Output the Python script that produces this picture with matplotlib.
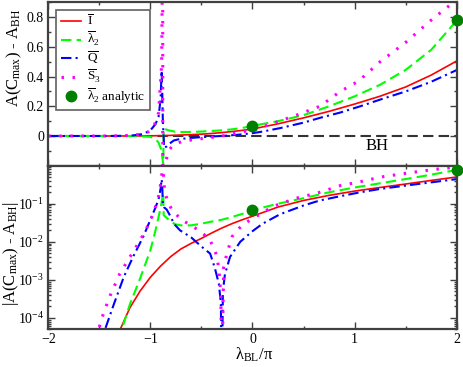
import matplotlib
matplotlib.use('Agg')
import matplotlib.pyplot as plt
import numpy as np
from matplotlib.ticker import MultipleLocator, LogLocator, NullFormatter, FixedLocator

plt.rcParams['font.family'] = ['Liberation Serif', 'DejaVu Serif']
plt.rcParams['mathtext.fontset'] = 'custom'
plt.rcParams['mathtext.rm'] = 'Liberation Serif'
plt.rcParams['mathtext.it'] = 'Liberation Serif:italic'

# I-bar
x_I = [-2.0, -1.8, -1.6, -1.4, -1.3, -1.2, -1.1, -1.0, -0.9, -0.8, -0.7, -0.6, -0.5,
       -0.4, -0.3, -0.2, -0.1, 0.0, 0.25, 0.5, 0.75, 1.0, 1.25, 1.5, 1.75, 2.0]
y_I = [1e-8, 1e-7, 1e-6, 1e-5, 4.7e-5, 1.86e-4, 5.1e-4, 1.17e-3, 2.3e-3, 4.1e-3, 6.5e-3,
       9.1e-3, 0.0123, 0.017, 0.023, 0.030, 0.038, 0.047, 0.082, 0.122, 0.166, 0.215,
       0.268, 0.33, 0.41, 0.505]

# lambda_2-bar
x_L = [-2.0, -1.8, -1.6, -1.4, -1.28, -1.2, -1.1, -1.0, -0.95, -0.92, -0.895, -0.882,
       -0.874, -0.87, -0.85, -0.82, -0.76, -0.7, -0.6, -0.5, -0.4, -0.3, -0.2, -0.1,
       0.0, 0.25, 0.5, 0.75, 1.0, 1.25, 1.5, 1.75, 2.0]
y_L = [-1e-9, -1e-8, -2e-7, -1.2e-5, -5e-5, -2.3e-4, -1.1e-3, -6e-3, -0.02, -0.045,
       -0.09, -0.15, -0.19, 0.05, 0.045, 0.038, 0.029, 0.027, 0.027, 0.03, 0.034,
       0.038, 0.045, 0.054, 0.068, 0.1, 0.14, 0.2, 0.267, 0.345, 0.445, 0.58, 0.777]

# Q-bar
x_Q = [-2.0, -1.8, -1.6, -1.5, -1.444, -1.36, -1.26, -1.17, -1.07, -1.0, -0.95, -0.92,
       -0.9, -0.89, -0.884, -0.878, -0.865, -0.84, -0.8, -0.77, -0.71, -0.6, -0.5,
       -0.415, -0.37, -0.33, -0.31, -0.3, -0.29, -0.27, -0.22, -0.12, 0.0, 0.1, 0.27,
       0.5, 0.66, 0.86, 1.055, 1.25, 1.5, 1.75, 2.0]
y_Q = [1e-9, 1e-8, 1.5e-6, 1.5e-5, 5e-5, 2.2e-4, 1.2e-3, 4e-3, 0.0136, 0.038, 0.08,
       0.13, 0.25, 0.44, 0.3, 0.1, -0.08, -0.07, -0.045, -0.03, -0.02, -0.013, -0.0075,
       -0.0049, -0.0021, -0.0008, -0.00025, 1e-6, 5e-4, 1.4e-3, 4e-3, 0.01, 0.019,
       0.03, 0.053, 0.09, 0.122, 0.158, 0.2, 0.245, 0.3, 0.365, 0.444]

# S_3-bar
x_S = [-2.0, -1.8, -1.6, -1.507, -1.458, -1.395, -1.3, -1.2, -1.1, -1.02, -0.97, -0.92,
       -0.89, -0.885, -0.88, -0.878, -0.87, -0.857, -0.82, -0.79, -0.74, -0.69, -0.61,
       -0.5, -0.415, -0.36, -0.33, -0.31, -0.3, -0.283, -0.25, -0.2, -0.15, -0.09,
       0.04, 0.2, 0.43, 0.66, 0.86, 1.04, 1.25, 1.5, 1.75, 1.95, 2.0]
y_S = [1e-8, 5e-7, 1.2e-5, 5e-5, 1.36e-4, 3.8e-4, 1.45e-3, 4e-3, 0.011, 0.028, 0.056,
       0.156, 0.48, 0.9, 3.0, -2.0, -0.4, -0.19, -0.1, -0.07, -0.05, -0.037, -0.028,
       -0.018, -0.011, -0.005, -0.0021, -4e-4, 1e-6, 0.0021, 0.005, 0.0137, 0.02,
       0.029, 0.047, 0.085, 0.14, 0.2, 0.3, 0.37, 0.5, 0.63, 0.78, 0.89, 0.93]

# analytic lambda_2 points
x_an = [0.0, 2.0]
y_an = [0.068, 0.78]

frame = '#404040'
fig = plt.figure(figsize=(4.63, 3.67), dpi=100)
ax1 = fig.add_axes([0.1043, 0.5485, 0.8821, 0.4452])
ax2 = fig.add_axes([0.1043, 0.1027, 0.8821, 0.4458])

curves = [
    (x_I, y_I, dict(color='#ff0000', lw=1.2, ls='-'), r'$\overline{\mathrm{I}}$'),
    (x_L, y_L, dict(color='#00ff00', lw=1.5, ls=(0, (5, 2.5))), r'$\overline{\mathrm{λ}}_2$'),
    (x_Q, y_Q, dict(color='#0000ff', lw=1.5, ls=(0, (5, 2, 1, 2))), r'$\overline{\mathrm{Q}}$'),
    (x_S, y_S, dict(color='#ff00ff', lw=2.2, ls=(0, (0.8, 2.8))), r'$\overline{\mathrm{S}}_3$'),
]

ax1.axhline(0, color='#333333', lw=1.5, ls=(0, (5, 2.5)), zorder=1)
for xs, ys, st, lab in curves:
    ax1.plot(xs, ys, label=lab, zorder=2, **st)
    ax2.plot(xs, np.abs(ys), zorder=2, **st)
ax1.plot(x_an, y_an, 'o', color='#008000', ms=7.5, label=r'$\overline{\mathrm{λ}}_2$ analytic',
         zorder=3, clip_on=False)
ax2.plot(x_an, y_an, 'o', color='#008000', ms=7.5, zorder=3, clip_on=False)

ax1.text(1.22, -0.068, 'BH', fontsize=12, ha='center', va='center')

ax1.set_xlim(-2, 2)
ax1.set_ylim(-0.2, 0.9)
ax2.set_xlim(-2, 2)
ax2.set_yscale('log')
ax2.set_ylim(5e-5, 1)

ax1.yaxis.set_major_locator(FixedLocator([0, 0.2, 0.4, 0.6, 0.8]))
ax1.yaxis.set_minor_locator(MultipleLocator(0.1))
ax1.set_yticklabels(['0', '0.2', '0.4', '0.6', '0.8'])
for ax in (ax1, ax2):
    ax.xaxis.set_major_locator(MultipleLocator(1))
    ax.xaxis.set_minor_locator(MultipleLocator(0.5))
    ax.tick_params(which='both', direction='in', top=True, right=True, colors=frame,
                   labelcolor='black', labelsize=10, width=1.0, pad=3)
    ax.tick_params(which='major', length=5)
    ax.tick_params(which='minor', length=2.5)
    for sp in ax.spines.values():
        sp.set_color(frame)
        sp.set_linewidth(1.6)
ax1.tick_params(labelbottom=False)
ax2.yaxis.set_major_locator(FixedLocator([1e-4, 1e-3, 1e-2, 1e-1]))
ax2.yaxis.set_minor_locator(LogLocator(base=10, subs=np.arange(2, 10), numticks=20))
ax2.yaxis.set_minor_formatter(NullFormatter())

ax1.set_ylabel(r'A(C$_{\mathrm{max}}$) - A$_{\mathrm{BH}}$', fontsize=12)
ax1.yaxis.set_label_coords(-0.06, 0.66)
ax2.set_ylabel(r'|A(C$_{\mathrm{max}}$) - A$_{\mathrm{BH}}$|', fontsize=12)
ax2.yaxis.set_label_coords(-0.068, 0.46)
ax2.set_xlabel(r'λ$_{\mathrm{BL}}$/π', fontsize=12)
ax2.xaxis.set_label_coords(0.505, -0.1)

leg = ax1.legend(loc='upper left', bbox_to_anchor=(0.02, 0.955), borderaxespad=0,
                 fontsize=9.5, handlelength=1.5, handletextpad=0.5, labelspacing=0.12,
                 fancybox=False, framealpha=1, borderpad=0.35)
leg.get_frame().set_edgecolor('#606060')
leg.get_frame().set_linewidth(1.2)

fig.savefig('out.png', dpi=100)
